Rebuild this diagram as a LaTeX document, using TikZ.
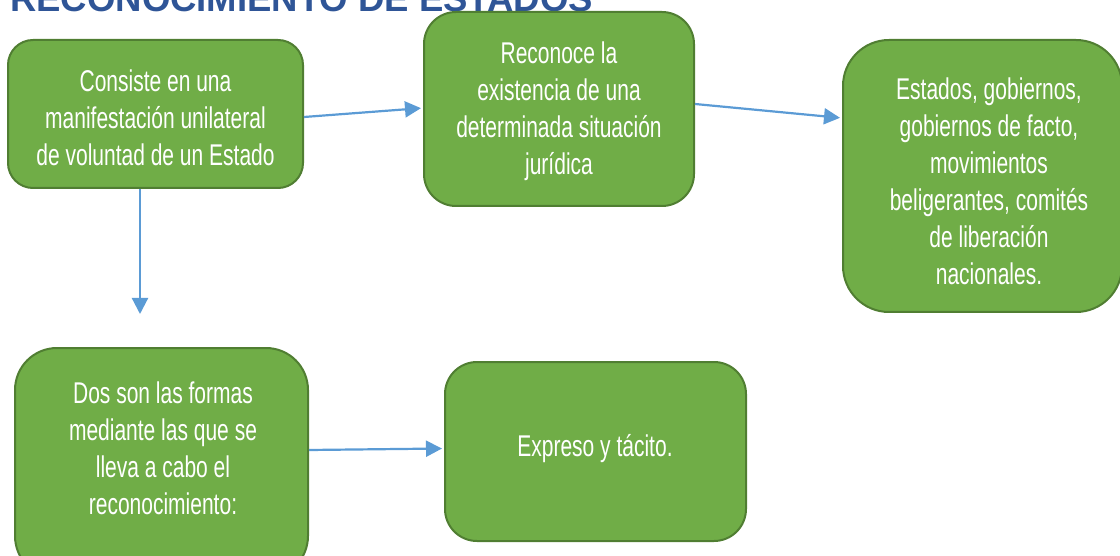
\documentclass[tikz,border=0pt]{standalone}
\usepackage{fontspec}
\setmainfont{Liberation Sans}[FakeStretch=0.7]
\newfontfamily\titlefont{Liberation Sans}[BoldFont={* Bold}]
\usetikzlibrary{arrows.meta}
\definecolor{boxfill}{HTML}{70AD47}
\definecolor{boxline}{HTML}{507E32}
\definecolor{arrowc}{HTML}{5B9BD5}
\definecolor{titlec}{HTML}{2F5597}
\tikzset{
  gbox/.style={draw=boxline, line width=2pt, fill=boxfill, rectangle,
    text=white, align=center, inner sep=0pt,
    font=\fontsize{30}{37}\selectfont},
  btext/.style={text=white, align=center, font=\fontsize{30}{37}\selectfont},
  arr/.style={draw=arrowc, line width=2.2pt,
    -{Triangle[length=16pt,width=16pt]}, shorten >=2pt}
}
\begin{document}
\begin{tikzpicture}[x=1pt,y=-1pt]
\useasboundingbox (0,0) rectangle (1120,556);
\node[anchor=base west, text=titlec, inner sep=0pt,
  font=\titlefont\bfseries\fontsize{36.5}{40}\selectfont] (title) at (10,12) {RECONOCIMIENTO DE ESTADOS};
% boxes
\node[gbox, rounded corners=25pt, minimum width=295pt, minimum height=148pt] (A) at (155.5,114) {};
\node[btext] (At) at (155.5,118)
  {Consiste en una\\manifestación unilateral\\de voluntad de un Estado};
\node[gbox, rounded corners=32pt, minimum width=270pt, minimum height=194pt] (B) at (559,109) {};
\node[btext] (Bt) at (559,111)
  {Reconoce la\\existencia de una\\determinada situación\\jurídica};
\node[gbox, rounded corners=46pt, minimum width=279pt, minimum height=272pt] (C) at (982.5,176) {};
\node[btext] (Ct) at (989,181)
  {Estados, gobiernos,\\gobiernos de facto,\\movimientos\\beligerantes, comités\\de liberación\\nacionales.};
\node[gbox, rounded corners=42pt, minimum width=293pt, minimum height=230pt] (D) at (161.5,463) {};
\node[btext] (Dt) at (163,448)
  {Dos son las formas\\mediante las que se\\lleva a cabo el\\reconocimiento:};
\node[gbox, rounded corners=32pt, minimum width=301pt, minimum height=179pt] (E) at (595.5,451.5) {};
\node[btext] (Et) at (595,449)
  {Expreso y tácito.};
% connectors
\coordinate (Dend) at (140,316);
\draw[arr] ([yshift=-3pt]A.east) -- ([yshift=1pt]B.west);
\draw[arr] ([yshift=5pt]B.east) -- ([yshift=58pt]C.west);
\draw[arr] (A.south -| Dend) -- (Dend);
\draw[arr] ([yshift=13pt]D.east) -- ([yshift=3pt]E.west);
\end{tikzpicture}
\end{document}
